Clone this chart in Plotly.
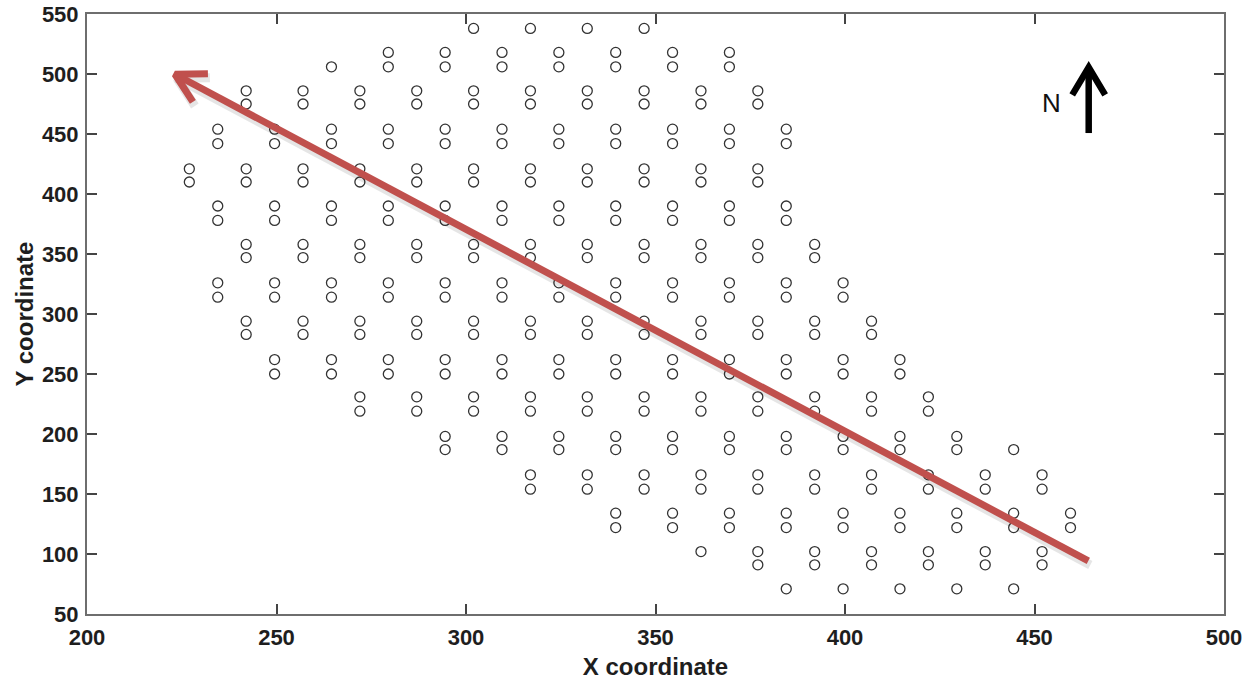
import math
import plotly.graph_objects as go

# Column x positions and the y values of the circles in each column
col_x = [227, 234.5, 242, 249.5, 257, 264.5, 272, 279.5, 287, 294.5, 302, 309.5,
         317, 324.5, 332, 339.5, 347, 354.5, 362, 369.5, 377, 384.5, 392, 399.5,
         407, 414.5, 422, 429.5, 437, 444.5, 452, 459.5]

col_y = [
    [421, 410],
    [454, 442, 390, 378, 326, 314],
    [486, 475, 421, 410, 358, 347, 294, 283],
    [454, 442, 390, 378, 326, 314, 262, 250],
    [486, 475, 421, 410, 358, 347, 294, 283],
    [506, 454, 442, 390, 378, 326, 314, 262, 250],
    [486, 475, 421, 410, 358, 347, 294, 283, 231, 219],
    [518, 506, 454, 442, 390, 378, 326, 314, 262, 250],
    [486, 475, 421, 410, 358, 347, 294, 283, 231, 219],
    [518, 506, 454, 442, 390, 378, 326, 314, 262, 250, 198, 187],
    [538, 486, 475, 421, 410, 358, 347, 294, 283, 231, 219],
    [518, 506, 454, 442, 390, 378, 326, 314, 262, 250, 198, 187],
    [538, 486, 475, 421, 410, 358, 347, 294, 283, 231, 219, 166, 154],
    [518, 506, 454, 442, 390, 378, 326, 314, 262, 250, 198, 187],
    [538, 486, 475, 421, 410, 358, 347, 294, 283, 231, 219, 166, 154],
    [518, 506, 454, 442, 390, 378, 326, 314, 262, 250, 198, 187, 134, 122],
    [538, 486, 475, 421, 410, 358, 347, 294, 283, 231, 219, 166, 154],
    [518, 506, 454, 442, 390, 378, 326, 314, 262, 250, 198, 187, 134, 122],
    [486, 475, 421, 410, 358, 347, 294, 283, 231, 219, 166, 154, 102],
    [518, 506, 454, 442, 390, 378, 326, 314, 262, 250, 198, 187, 134, 122],
    [486, 475, 421, 410, 358, 347, 294, 283, 231, 219, 166, 154, 102, 91],
    [454, 442, 390, 378, 326, 314, 262, 250, 198, 187, 134, 122, 71],
    [358, 347, 294, 283, 231, 219, 166, 154, 102, 91],
    [326, 314, 262, 250, 198, 187, 134, 122, 71],
    [294, 283, 231, 219, 166, 154, 102, 91],
    [262, 250, 198, 187, 134, 122, 71],
    [231, 219, 166, 154, 102, 91],
    [198, 187, 134, 122, 71],
    [166, 154, 102, 91],
    [187, 134, 122, 71],
    [166, 154, 102, 91],
    [134, 122],
]

# Direction arrow (red) and north arrow, in data units
red_arrow_tail = (464.2, 94.2)
red_arrow_tip = (223.2, 499.8)
north_tail = (464.3, 450.8)
north_tip = (464.3, 505.5)
north_label_pos = (454.4, 475.8)

x_range = [200, 500]
y_range = [50, 550]
tick_step = 50

# figure geometry
W, H = 1251, 680
M = dict(l=87, r=27, t=14, b=66)
px_x = (W - M["l"] - M["r"]) / (x_range[1] - x_range[0])
px_y = (H - M["t"] - M["b"]) / (y_range[1] - y_range[0])

xs, ys = [], []
for cx, cys in zip(col_x, col_y):
    for cy in cys:
        xs.append(cx)
        ys.append(cy)


def arrow_path(tail, tip, arm_len_px, arm_deg, dx_px=0.0, dy_px=0.0):
    """Shaft + chevron head; arms built in pixel space then mapped back to data."""
    vx = (tail[0] - tip[0]) * px_x
    vy = (tail[1] - tip[1]) * px_y
    n = math.hypot(vx, vy)
    ux, uy = vx / n, vy / n
    a = math.radians(arm_deg)
    arms = []
    for s in (1, -1):
        rx = ux * math.cos(s * a) - uy * math.sin(s * a)
        ry = ux * math.sin(s * a) + uy * math.cos(s * a)
        arms.append((tip[0] + rx * arm_len_px / px_x, tip[1] + ry * arm_len_px / px_y))
    ox, oy = dx_px / px_x, dy_px / px_y
    px = [tail[0], tip[0], None, arms[0][0], tip[0], arms[1][0]]
    py = [tail[1], tip[1], None, arms[0][1], tip[1], arms[1][1]]
    return ([v + ox if v is not None else None for v in px],
            [v + oy if v is not None else None for v in py])


FONT = "Liberation Sans, Arial, sans-serif"

fig = go.Figure()
fig.add_trace(go.Scatter(
    x=xs, y=ys, mode="markers",
    marker=dict(symbol="circle-open", size=10, color="#333333", line=dict(width=1.3, color="#333333")),
    showlegend=False, hoverinfo="x+y",
))

# shadow of red arrow
sx, sy = arrow_path(red_arrow_tail, red_arrow_tip, 33, 29, dx_px=2, dy_px=-4)
fig.add_trace(go.Scatter(x=sx, y=sy, mode="lines",
                         line=dict(color="rgba(0,0,0,0.10)", width=9),
                         showlegend=False, hoverinfo="skip"))
# red arrow
rx, ry = arrow_path(red_arrow_tail, red_arrow_tip, 33, 29)
fig.add_trace(go.Scatter(x=rx, y=ry, mode="lines",
                         line=dict(color="#C0504D", width=7),
                         showlegend=False, hoverinfo="skip"))
# north arrow
nx, ny = arrow_path(north_tail, north_tip, 32, 31)
fig.add_trace(go.Scatter(x=nx, y=ny, mode="lines",
                         line=dict(color="#000000", width=6.5),
                         showlegend=False, hoverinfo="skip"))

annotations = [
    dict(x=north_label_pos[0], y=north_label_pos[1], xref="x", yref="y", text="N",
         showarrow=False, font=dict(family=FONT, size=26, color="#111111")),
]

axis_common = dict(
    showline=True, linecolor="#6e6e6e", linewidth=2, mirror="ticks",
    ticks="inside", ticklen=10, tickwidth=1.5, tickcolor="#444444",
    showgrid=False, zeroline=False, dtick=tick_step, automargin=False,
    tickfont=dict(family=FONT, size=22, color="#1e1e1e", weight="bold"),
)

fig.update_layout(
    width=W, height=H,
    margin=M,
    paper_bgcolor="white", plot_bgcolor="white",
    xaxis=dict(range=x_range, tick0=200, ticklabelstandoff=3,
               title=dict(text="X coordinate", standoff=10,
                          font=dict(family=FONT, size=24, color="#1e1e1e", weight="bold")),
               **axis_common),
    yaxis=dict(range=y_range, tick0=50, ticklabelstandoff=2,
               title=dict(text="Y coordinate", standoff=1,
                          font=dict(family=FONT, size=24, color="#1e1e1e", weight="bold")),
               **axis_common),
    annotations=annotations,
)

fig.write_html("out.html", config={"displayModeBar": False},
               post_script="document.body.style.margin='0px';")
